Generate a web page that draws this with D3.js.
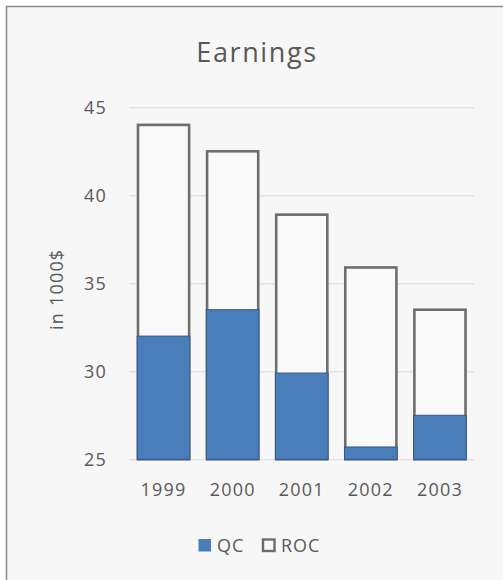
<!DOCTYPE html>
<html>
<head>
<meta charset="utf-8">
<script src="https://cdn.jsdelivr.net/npm/d3@7"></script>
<style>
  html, body { margin: 0; padding: 0; background: #ffffff; }
  svg { display: block; }
  text { font-family: "Open Sans", "Noto Sans", sans-serif; fill: #595959; }
</style>
</head>
<body>
<svg id="chart" width="503" height="580"></svg>
<script>
// Earnings by year, in thousands of dollars
const years = ["1999", "2000", "2001", "2002", "2003"];
const qcValues = [32.0, 33.5, 29.9, 25.7, 27.5];
const rocValues = [44.0, 42.5, 38.9, 35.9, 33.5];
const yTicks = [25, 30, 35, 40, 45];
const seriesNames = ["QC", "ROC"];

const svg = d3.select("#chart");

// panel background with a border along the top and left edges
svg.append("rect")
  .attr("x", 6.5).attr("y", 6.5)
  .attr("width", 520).attr("height", 600)
  .attr("fill", "#f7f7f7")
  .attr("stroke", "#8a8a8a")
  .attr("stroke-width", 1.5);

const plot = { left: 129, right: 474.5, top: 107.3, bottom: 459.3 };

const x = d3.scaleBand()
  .domain(years)
  .range([plot.left, plot.right])
  .paddingInner(0.26)
  .paddingOuter(0.13);

const y = d3.scaleLinear()
  .domain([25, 45])
  .range([plot.bottom, plot.top]);

// horizontal gridlines
const grid = svg.append("g")
  .attr("transform", `translate(${plot.left},0)`)
  .call(d3.axisLeft(y).tickValues(yTicks)
    .tickSize(-(plot.right - plot.left)).tickFormat(""));
grid.select(".domain").remove();
grid.selectAll(".tick line").attr("stroke", "#d9d9d9").attr("stroke-width", 1);

// y tick labels
const yAxis = svg.append("g")
  .attr("transform", `translate(${plot.left - 22},0)`)
  .call(d3.axisLeft(y).tickValues(yTicks).tickSize(0).tickPadding(0));
yAxis.select(".domain").remove();
yAxis.selectAll(".tick text")
  .attr("font-size", 18)
  .attr("letter-spacing", 1.2)
  .attr("font-family", null)
  .attr("fill", "#595959");

// ROC bars (outlined), drawn behind the QC bars
svg.append("g").selectAll("rect")
  .data(years.map((yr, i) => ({ yr, v: rocValues[i] })))
  .join("rect")
  .attr("x", d => x(d.yr))
  .attr("y", d => y(d.v))
  .attr("width", x.bandwidth())
  .attr("height", d => y(25) - y(d.v))
  .attr("fill", "#f9f9f9")
  .attr("stroke", "#6e6e6e")
  .attr("stroke-width", 2.6);

// QC bars (filled)
svg.append("g").selectAll("rect")
  .data(years.map((yr, i) => ({ yr, v: qcValues[i] })))
  .join("rect")
  .attr("x", d => x(d.yr) - 0.8)
  .attr("y", d => y(d.v))
  .attr("width", x.bandwidth() + 1.6)
  .attr("height", d => y(25) - y(d.v))
  .attr("fill", "#4a7ebb")
  .attr("stroke", "#33578a")
  .attr("stroke-width", 1);

// x axis labels
const xAxis = svg.append("g")
  .attr("transform", `translate(0,${plot.bottom})`)
  .call(d3.axisBottom(x).tickSize(0).tickPadding(24));
xAxis.select(".domain").remove();
xAxis.selectAll(".tick text")
  .attr("font-size", 18)
  .attr("letter-spacing", 1.2)
  .attr("font-family", null)
  .attr("fill", "#595959");

// title
svg.append("text")
  .attr("x", 257).attr("y", 62)
  .attr("text-anchor", "middle")
  .attr("font-size", 27)
  .attr("letter-spacing", 1.6)
  .text("Earnings");

// y axis title
svg.append("text")
  .attr("transform", `translate(63,${(plot.top + plot.bottom) / 2 + 6}) rotate(-90)`)
  .attr("text-anchor", "middle")
  .attr("font-size", 18)
  .attr("letter-spacing", 1.2)
  .text("in 1000$");

// legend
const legend = svg.append("g").attr("transform", "translate(0,545)");
const legendItems = [
  { name: seriesNames[0], x: 199, fill: "#4a7ebb", stroke: "#4a7ebb" },
  { name: seriesNames[1], x: 263, fill: "#f9f9f9", stroke: "#6e6e6e" }
];
legendItems.forEach(item => {
  legend.append("rect")
    .attr("x", item.x).attr("y", -5.5)
    .attr("width", 11.5).attr("height", 11.5)
    .attr("fill", item.fill)
    .attr("stroke", item.stroke)
    .attr("stroke-width", item.stroke === item.fill ? 1 : 2.4);
  legend.append("text")
    .attr("x", item.x + 18).attr("y", 6.5)
    .attr("font-size", 18)
    .attr("letter-spacing", 1)
    .text(item.name);
});
</script>
</body>
</html>
